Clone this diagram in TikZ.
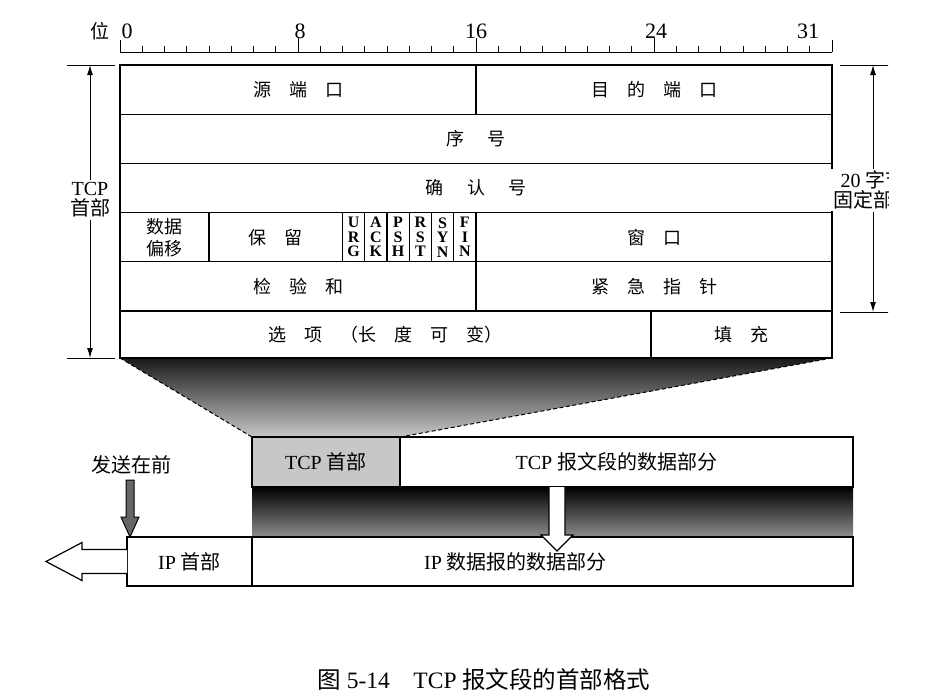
\documentclass[tikz,border=0pt]{standalone}
\usepackage{fontspec}
\setmainfont{Liberation Serif}
\newfontfamily\cjk{Noto Sans CJK SC}
\usetikzlibrary{arrows.meta,positioning}
\colorlet{fanTop}{black!90}
\colorlet{fanBottom}{black!22}
\colorlet{hdrFill}{black!22}
\colorlet{sendFill}{black!60}
\newcommand\gp{\hspace{1em}}
\newcommand\wgp{\hspace{1.3em}}

\begin{document}
\begin{tikzpicture}[x=1pt,y=-1pt,
  every node/.style={font=\fontsize{18}{22}\selectfont},
  cell/.style={draw,line width=1.1pt,anchor=north west,inner sep=0pt,
    outer sep=0pt,align=center,font=\cjk\fontsize{18}{22}\selectfont},
  flag/.style={cell,font=\bfseries\fontsize{16}{14.5}\selectfont},
  latin/.style={font=\fontsize{20}{24}\selectfont},
  boxtext/.style={font=\fontsize{20}{24}\selectfont},
  frame/.style={line width=2.4pt},
  dim/.style={line width=1pt,-{Latex[length=10pt,width=6pt]}},
  hollow/.style={draw,fill=white,line width=1.2pt,line join=miter},
  bitnum/.style={font=\fontsize{22}{24}\selectfont}
]
\useasboundingbox (0,0) rectangle (933,694);

% bit ruler
\coordinate (r0) at (120,52);
\coordinate (r32) at (832,52);
\draw[line width=1pt] (r0) -- (r32);
\foreach \i in {1,...,31}
  \draw[line width=.8pt] ({120+\i*22.25},52) -- ++(0,-6);
\foreach \i in {8,16,24}
  \draw[line width=.8pt] ({120+\i*22.25},52) -- ++(0,-14);
\draw[line width=1pt] (r0) -- ++(0,-12);
\draw[line width=1pt] (r32) -- ++(0,-12);
\node[font=\cjk\fontsize{19}{22}\selectfont] (wei) at (100,31) {位};
\node[bitnum] (b0) at (127,31) {0};
\node[bitnum] (b8) at (300,31) {8};
\node[bitnum] (b16) at (476,31) {16};
\node[bitnum] (b24) at (656,31) {24};
\node[bitnum] (b31) at (808,31) {31};

% shading between header and segment
\shade[top color=fanTop,bottom color=fanBottom]
  (120,358) -- (832,358) -- (400,437) -- (252,437) -- cycle;
\shade[top color=black,bottom color=black!45] (252,487) rectangle (853,537);

% header rows
\foreach \nm/\x/\y/\w/\h/\txt in {
  src/120/65/356/49.2/{源\gp 端\gp 口},
  dst/476/65/356/49.2/{目\gp 的\gp 端\gp 口},
  seq/120/114.2/712/49.2/{序\wgp 号},
  ackn/120/163.4/712/49.2/{确\wgp 认\wgp 号},
  off/120/212.6/89/49.2/{数据\\偏移},
  rsv/209/212.6/133.5/49.2/{保\gp 留},
  win/476/212.6/356/49.2/{窗\gp 口},
  chk/120/261.8/356/49.2/{检\gp 验\gp 和},
  urp/476/261.8/356/49.2/{紧\gp 急\gp 指\gp 针},
  opt/120/311/531/47/{选\gp 项\gp （长\gp 度\gp 可\gp 变）},
  pad/651/311/181/47/{填\gp 充}}
  \node[cell,minimum width=\w*1pt,minimum height=\h*1pt] (\nm) at (\x,\y) {\txt};
\foreach \nm/\txt [count=\i from 0] in {
  urg/U\\R\\G, ack/A\\C\\K, psh/P\\S\\H, rst/R\\S\\T, syn/S\\Y\\N, fin/F\\I\\N}
  \node[flag,minimum width=22.25pt,minimum height=49.2pt]
    (\nm) at ({342.5+\i*22.25},212.6) {\txt};
\draw[frame] (src.north west) rectangle (pad.south east);

% dimension on the left
\node[latin,align=center,fill=white,inner sep=2pt] (hdrLbl) at (90,200)
  {TCP\\[-4pt]{\cjk 首部}};
\coordinate (hdrTop) at (90,65);
\coordinate (hdrBot) at (90,358);
\draw[line width=.8pt] (67,65) -- (115,65);
\draw[line width=.8pt] (67,358) -- (115,358);
\draw[dim] (hdrLbl) -- (hdrTop);
\draw[dim] (hdrLbl) -- (hdrBot);

% dimension on the right, cut by the page edge
\begin{scope}
  \clip (0,0) rectangle (888,694);
  \node[latin,align=center,fill=white,inner sep=2pt] (fixLbl) at (873,190)
    {20 {\cjk 字节}\\[-4pt]{\cjk 固定部分}};
  \coordinate (fixTop) at (873,65);
  \coordinate (fixBot) at (873,312);
  \draw[line width=.8pt] (840,65) -- (900,65);
  \draw[line width=.8pt] (840,312) -- (900,312);
  \draw[dim] (fixLbl) -- (fixTop);
  \draw[dim] (fixLbl) -- (fixBot);
\end{scope}

% TCP segment
\node[cell,fill=hdrFill,font=\fontsize{20}{24}\selectfont,
  minimum width=148pt,minimum height=50pt] (tcpHdr) at (252,437) {TCP {\cjk 首部}};
\node[cell,fill=white,minimum width=453pt,minimum height=50pt,
  right=0pt of tcpHdr] (tcpData) {};
\node[boxtext] (tcpDataLbl) at ([xshift=-10pt]tcpData.center)
  {TCP {\cjk 报文段的数据部分}};
\draw[frame] (tcpHdr.north west) rectangle (tcpData.south east);
\draw[dash pattern=on 4pt off 2.5pt,line width=1pt] (opt.south west) -- (tcpHdr.north west);
\draw[dash pattern=on 4pt off 2.5pt,line width=1pt] (pad.south east) -- (tcpHdr.north east);

% IP datagram
\node[cell,fill=white,font=\fontsize{20}{24}\selectfont,
  minimum width=125pt,minimum height=49pt] (ipHdr) at (127,537) {IP {\cjk 首部}};
\node[cell,fill=white,minimum width=601pt,minimum height=49pt,
  right=0pt of ipHdr] (ipData) {};
\node[boxtext] (ipDataLbl) at ([xshift=-37pt]ipData.center)
  {IP {\cjk 数据报的数据部分}};
\draw[frame] (ipHdr.north west) rectangle (ipData.south east);

% segment goes into the datagram
\draw[hollow] ([xshift=-77.5pt]tcpData.south) -- +(0,48) -- +(-8,48) -- +(8,64)
  -- +(24,48) -- +(16,48) -- +(16,0);

% sending direction
\draw[hollow] ([yshift=12pt]ipHdr.west) -- +(-45,0) -- +(-45,-7) -- +(-81,12)
  -- +(-45,31) -- +(-45,24) -- +(0,24);

\node[font=\cjk\fontsize{20}{24}\selectfont] (first) at (131,465) {发送在前};
\draw[fill=sendFill,line width=1pt,line join=miter]
  ([xshift=3pt]ipHdr.north west) -- +(-9,-20) -- +(-4,-20) -- +(-4,-57)
  -- +(4,-57) -- +(4,-20) -- +(9,-20) -- cycle;

% caption
\node[font=\fontsize{23.5}{26}\selectfont] (caption) at (484,680)
  {{\cjk 图} 5-14\quad TCP {\cjk 报文段的首部格式}};
\end{tikzpicture}
\end{document}
